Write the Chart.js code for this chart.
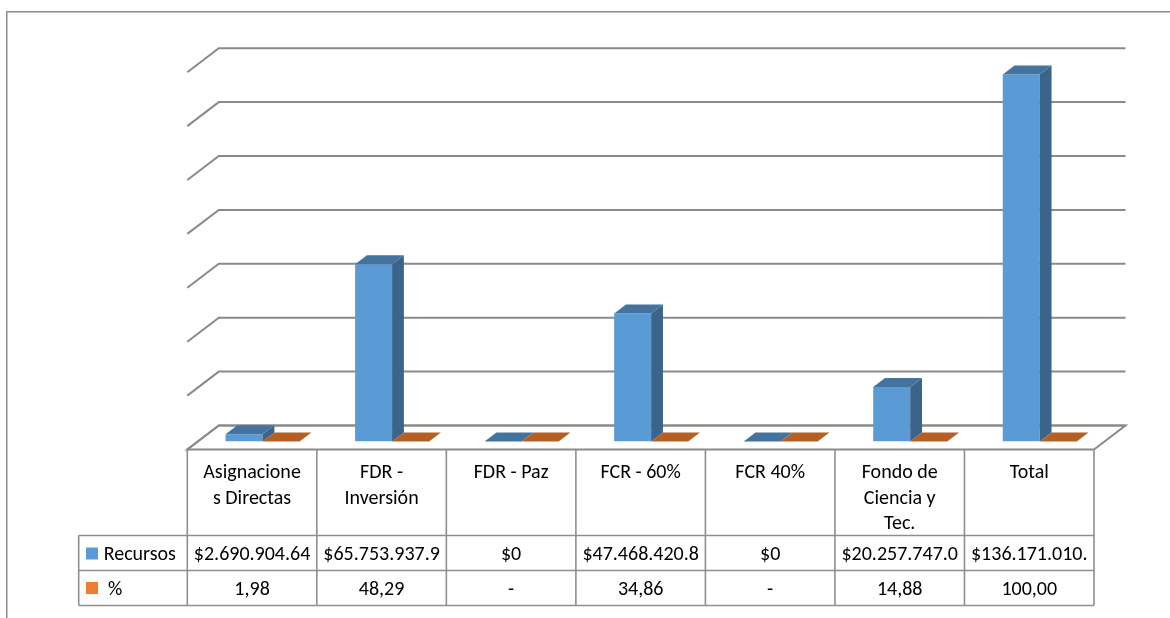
<!DOCTYPE html>
<html>
<head>
<meta charset="utf-8">
<script src="https://cdn.jsdelivr.net/npm/chart.js@4.4.1/dist/chart.umd.min.js"></script>
<style>
  html, body { margin: 0; padding: 0; background: #ffffff; }
  #wrap { position: relative; width: 1170px; height: 618px; }
</style>
</head>
<body>
<div id="wrap"><canvas id="c"></canvas></div>
<script>
// ---------- data ----------
const categories = [
  ['Asignacione', 's Directas'],
  ['FDR -', 'Inversión'],
  ['FDR - Paz'],
  ['FCR - 60%'],
  ['FCR 40%'],
  ['Fondo de', 'Ciencia y', 'Tec.'],
  ['Total']
];
const seriesNames = ['Recursos', '%'];
const recursosValues = [2690904640, 65753937900, 0, 47468420800, 0, 20257747000, 136171010000];
const pctValues = [1.98, 48.29, 0, 34.86, 0, 14.88, 100.00];
const recursosLabels = ['$2.690.904.64', '$65.753.937.9', '$0', '$47.468.420.8', '$0', '$20.257.747.0', '$136.171.010.'];
const pctLabels = ['1,98', '48,29', '-', '34,86', '-', '14,88', '100,00'];
const yMin = 0, yMax = 140000000000, yStep = 20000000000;

// ---------- style / geometry ----------
const FONT = '20px Carlito, Calibri, Lato, sans-serif';
const DX = 31.5, DY = -24;      // full floor depth
const FRONT = 1 / 3;            // bar front plane depth
const DEPTH = 0.375;            // bar depth
const COLORS = {
  front: ['#5B9BD5', '#ED7D31'],
  side:  ['#3A6489', '#B45A1E'],
  top:   ['#43749F', '#B65F22'],
  legend: ['#5B9BD5', '#ED7D31'],
  grid: '#8a8a8a',
  table: '#8e8e8e'
};
const HEADER_H = 86, ROW_H = 35;
const LEGEND_LEFT = 78.7;

const threeD = {
  id: 'threeD',
  beforeDraw(chart) {
    const ctx = chart.ctx;
    ctx.save();
    ctx.fillStyle = '#ffffff';
    ctx.fillRect(0, 0, chart.width, chart.height);
    ctx.strokeStyle = '#8c8c8c';
    ctx.lineWidth = 1.5;
    ctx.strokeRect(6.75, 11.75, 1300, 800);
    ctx.restore();
  },
  beforeDatasetsDraw(chart) {
    const { ctx, chartArea: a, scales: { y } } = chart;
    const fx = -FRONT * DX, fy = -FRONT * DY;
    const bx = (1 - FRONT) * DX, by = (1 - FRONT) * DY;
    const L = a.left, R = a.right;
    const y0 = y.getPixelForValue(0);
    ctx.save();
    ctx.strokeStyle = COLORS.grid;
    ctx.lineWidth = 2;
    // floor
    ctx.beginPath();
    ctx.moveTo(L + fx, y0 + fy);
    ctx.lineTo(R + fx, y0 + fy);
    ctx.lineTo(R + bx, y0 + by);
    ctx.lineTo(L + bx, y0 + by);
    ctx.closePath();
    ctx.stroke();
    // walls / gridlines
    const vals = [];
    for (let v = yMin; v <= yMax + 1; v += yStep) vals.push(v);
    vals.forEach(v => {
      const py = y.getPixelForValue(v);
      ctx.beginPath();
      ctx.moveTo(L + fx, py + fy);
      ctx.lineTo(L + bx, py + by);
      ctx.lineTo(R + bx, py + by);
      ctx.stroke();
    });
    ctx.restore();
  },
  afterDatasetsDraw(chart) {
    const ctx = chart.ctx;
    const ox = DEPTH * DX, oy = DEPTH * DY;
    ctx.save();
    const n = categories.length;
    for (let i = 0; i < n; i++) {
      chart.data.datasets.forEach((ds, d) => {
        const el = chart.getDatasetMeta(d).data[i];
        if (!el) return;
        const p = el.getProps(['x', 'y', 'base', 'width'], true);
        const x0 = p.x - p.width / 2, x1 = p.x + p.width / 2;
        const top = Math.min(p.y, p.base), base = Math.max(p.y, p.base);
        if (base - top > 0.5) {
          ctx.fillStyle = COLORS.side[d];
          ctx.beginPath();
          ctx.moveTo(x1, top);
          ctx.lineTo(x1 + ox, top + oy);
          ctx.lineTo(x1 + ox, base + oy);
          ctx.lineTo(x1, base);
          ctx.closePath();
          ctx.fill();
        }
        ctx.fillStyle = COLORS.top[d];
        ctx.beginPath();
        ctx.moveTo(x0, top);
        ctx.lineTo(x0 + ox, top + oy);
        ctx.lineTo(x1 + ox, top + oy);
        ctx.lineTo(x1, top);
        ctx.closePath();
        ctx.fill();
      });
    }
    ctx.restore();
  },
  afterDraw(chart) {
    const { ctx, chartArea: a, scales: { y } } = chart;
    const fx = -FRONT * DX, fy = -FRONT * DY;
    const n = categories.length;
    const L = a.left + fx, R = a.right + fx;
    const cw = (a.right - a.left) / n;
    const tTop = y.getPixelForValue(0) + fy;
    const hBot = tTop + HEADER_H;
    const r1Bot = hBot + ROW_H;
    const r2Bot = r1Bot + ROW_H;
    ctx.save();
    ctx.strokeStyle = COLORS.table;
    ctx.lineWidth = 1.6;
    // horizontal lines
    [hBot, r1Bot, r2Bot].forEach(yy => {
      ctx.beginPath(); ctx.moveTo(LEGEND_LEFT, yy); ctx.lineTo(R, yy); ctx.stroke();
    });
    // vertical lines
    for (let k = 0; k <= n; k++) {
      const xx = L + k * cw;
      ctx.beginPath(); ctx.moveTo(xx, tTop); ctx.lineTo(xx, r2Bot); ctx.stroke();
    }
    ctx.beginPath(); ctx.moveTo(LEGEND_LEFT, hBot); ctx.lineTo(LEGEND_LEFT, r2Bot); ctx.stroke();

    // text
    ctx.fillStyle = '#000000';
    ctx.font = FONT;
    ctx.textBaseline = 'alphabetic';
    for (let i = 0; i < n; i++) {
      const cx = L + (i + 0.5) * cw;
      ctx.textAlign = 'center';
      categories[i].forEach((line, j) => {
        ctx.fillText(line, cx, tTop + 28.5 + j * 25.5);
      });
      const rows = [[recursosLabels[i], hBot + 24], [pctLabels[i], r1Bot + 24.5]];
      rows.forEach(([txt, by]) => {
        const x0 = L + i * cw;
        const w = ctx.measureText(txt).width;
        ctx.save();
        ctx.beginPath();
        ctx.rect(x0 + 1, by - 30, cw - 2, 40);
        ctx.clip();
        if (w > cw - 4) {
          ctx.textAlign = 'left';
          ctx.fillText(txt, x0 + 2, by);
        } else {
          ctx.textAlign = 'center';
          ctx.fillText(txt, cx, by);
        }
        ctx.restore();
      });
    }
    // legend keys
    ctx.textAlign = 'left';
    ctx.fillStyle = COLORS.legend[0];
    ctx.fillRect(86, hBot + 12, 12, 12);
    ctx.fillStyle = COLORS.legend[1];
    ctx.fillRect(86, r1Bot + 11.5, 12, 12);
    ctx.fillStyle = '#000000';
    ctx.fillText(seriesNames[0], 103.7, hBot + 24);
    ctx.fillText(seriesNames[1], 108, r1Bot + 24.5);
    ctx.restore();
  }
};

const chart = new Chart(document.getElementById('c'), {
  type: 'bar',
  data: {
    labels: categories,
    datasets: [
      { label: seriesNames[0], data: recursosValues, backgroundColor: COLORS.front[0], borderWidth: 0 },
      { label: seriesNames[1], data: pctValues, backgroundColor: COLORS.front[1], borderWidth: 0 }
    ]
  },
  options: {
    responsive: true,
    maintainAspectRatio: false,
    animation: false,
    devicePixelRatio: 1,
    layout: { padding: { left: 197.8, right: 1170 - 1104.5, top: 441.5 - 377.3, bottom: 618 - 441.5 } },
    datasets: { bar: { categoryPercentage: 74 / 129.53, barPercentage: 1, grouped: true } },
    plugins: { legend: { display: false }, tooltip: { enabled: false }, title: { display: false } },
    scales: {
      x: { type: 'category', display: false, offset: true },
      y: { type: 'linear', display: false, min: yMin, max: yMax, ticks: { stepSize: yStep } }
    }
  },
  plugins: [threeD]
});
</script>
</body>
</html>
